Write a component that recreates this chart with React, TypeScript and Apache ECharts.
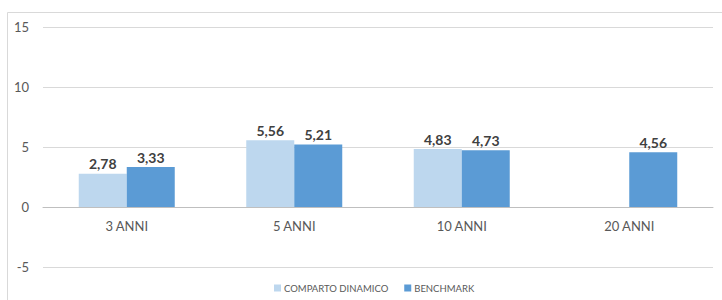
import React, { useEffect, useRef } from "react";
import * as echarts from "echarts";

const categories = ["3 ANNI", "5 ANNI", "10 ANNI", "20 ANNI"];
const seriesNames = ["COMPARTO DINAMICO", "BENCHMARK"];
const comparto: (number | null)[] = [2.78, 5.56, 4.83, null];
const benchmark: number[] = [3.33, 5.21, 4.73, 4.56];

const FONT = "Lato, 'Open Sans', sans-serif";

export default function App() {
  const ref = useRef<HTMLDivElement>(null);
  useEffect(() => {
    if (!ref.current) return;
    const chart = echarts.init(ref.current, null, { renderer: "svg" });
    const label = {
      show: true,
      position: "top" as const,
      distance: 3,
      fontFamily: FONT,
      fontSize: 14,
      fontWeight: "bold" as const,
      color: "#404040",
      formatter: (p: any) => (p.value == null ? "" : Number(p.value).toFixed(2).replace(".", ",")),
    };
    chart.setOption({
      animation: false,
      textStyle: { fontFamily: FONT },
      graphic: [
        {
          type: "rect",
          shape: { x: 7.5, y: 12.5, width: 760, height: 320 },
          style: { fill: "none", stroke: "#d9d9d9", lineWidth: 1 },
          silent: true,
        },
      ],
      legend: {
        bottom: 2,
        left: 269,
        itemWidth: 7,
        itemHeight: 7,
        itemGap: 16,
        icon: "rect",
        textStyle: { fontFamily: FONT, fontSize: 9.5, color: "#595959", padding: [0, 0, 0, -2] },
        data: seriesNames,
      },
      grid: { left: 43, right: 9, top: 27, bottom: 33, containLabel: false },
      xAxis: {
        type: "category",
        data: categories,
        position: "bottom",
        offset: -60,
        axisLine: { show: true, onZero: false, lineStyle: { color: "#bfbfbf", width: 1 } },
        axisTick: { show: false },
        axisLabel: { fontFamily: FONT, fontSize: 13, color: "#595959", margin: 12 },
      },
      yAxis: {
        type: "value",
        min: -5,
        max: 15,
        interval: 5,
        axisLine: { show: false },
        axisTick: { show: false },
        axisLabel: { fontFamily: FONT, fontSize: 13, color: "#595959", margin: 14, align: "right" },
        splitLine: { lineStyle: { color: "#d9d9d9", width: 1 } },
      },
      series: [
        {
          name: seriesNames[0],
          type: "bar",
          data: comparto,
          itemStyle: { color: "#BDD7EE" },
          barWidth: 48,
          barGap: "0%",
          label,
        },
        {
          name: seriesNames[1],
          type: "bar",
          data: benchmark,
          itemStyle: { color: "#5B9BD5" },
          barWidth: 48,
          barGap: "0%",
          label,
        },
      ],
    });
    return () => chart.dispose();
  }, []);
  return (
    <div
      ref={ref}
      style={{ position: "absolute", left: 0, top: 0, width: 722, height: 300, background: "#fff" }}
    />
  );
}
